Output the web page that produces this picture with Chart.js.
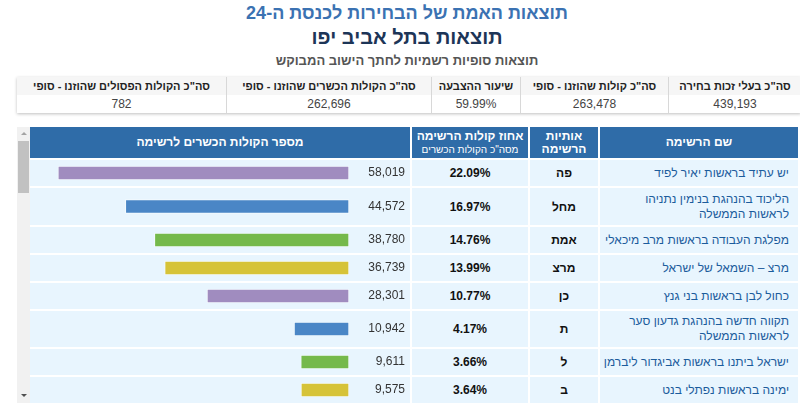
<!DOCTYPE html>
<html lang="he" dir="rtl">
<head>
<meta charset="utf-8">
<script src="https://cdn.jsdelivr.net/npm/chart.js@4"></script>
<style>
  html, body { margin: 0; padding: 0; background: #fff; }
  body { width: 800px; height: 406px; overflow: hidden; position: relative;
         font-family: "Liberation Sans", Arial, sans-serif; }
  .t1 { position: absolute; top: 3px; left: 14px; width: 786px; text-align: center;
        font-size: 18px; font-weight: bold; color: #3b72b2; }
  .t2 { position: absolute; top: 26px; left: 14px; width: 786px; text-align: center;
        font-size: 20px; font-weight: bold; color: #1d3557; }
  .t3 { position: absolute; top: 53px; left: 14px; width: 786px; text-align: center;
        font-size: 13px; font-weight: bold; color: #555; }
  .sum { position: absolute; top: 77px; left: 17px; width: 780px; border-collapse: collapse;
         table-layout: fixed; box-shadow: 0 1px 3px rgba(0,0,0,0.25); }
  .sum td { border-left: 1px solid #d8d8d8; text-align: center; font-size: 11px; padding: 0;
            height: 18px; white-space: nowrap; }
  .sum td:last-child { border-left: none; }
  .sum tr.h td { font-weight: bold; color: #222; background: #f6f6f6; }
  .sum tr.v td { color: #444; background: #fff; font-size: 12px; }
  .main { position: absolute; top: 125px; left: 28px; width: 772px; border-collapse: separate;
          border-spacing: 2px; table-layout: fixed; }
  .main th { background: #2f6ca8; color: #fff; font-size: 12px; font-weight: bold; height: 31px;
             padding: 0; line-height: 13px; }
  .main th small { font-size: 10px; font-weight: normal; }
  .main td { background: #e8f5fe; padding: 0; font-size: 12px; }
  .main td.bar { position: relative; }
  .main td.bar canvas { display: block; }
  .main td.pct { text-align: center; font-weight: bold; color: #111; }
  .main td.let { text-align: center; font-weight: bold; color: #111; }
  .main td.name { text-align: right; padding-right: 9px; color: #1c5c9c; font-size: 12px;
                  line-height: 15px; white-space: nowrap; }
  .scroll { position: absolute; left: 17px; top: 127px; width: 13px; height: 276px; background: #f1f1f1; }
  .thumb { position: absolute; left: 1px; top: 14px; width: 11px; height: 52px; background: #c1c1c1; }
  .arr { position: absolute; left: 4px; width: 0; height: 0; border-left: 3px solid transparent;
         border-right: 3px solid transparent; }
  .up { top: 5px; border-bottom: 3px solid #a3a3a3; }
  .dn { bottom: 6px; border-top: 3px solid #505050; }
</style>
</head>
<body>
<div class="t1">תוצאות האמת של הבחירות לכנסת ה-24</div>
<div class="t2">תוצאות בתל אביב יפו</div>
<div class="t3">תוצאות סופיות רשמיות לחתך הישוב המבוקש</div>

<table class="sum" id="sum"></table>

<div class="scroll"><div class="thumb"></div><div class="arr up"></div><div class="arr dn"></div></div>

<table class="main" id="main">
  <colgroup><col style="width:198px"><col style="width:68px"><col style="width:116px"><col style="width:380px"></colgroup>
  <thead>
    <tr>
      <th>שם הרשימה</th>
      <th>אותיות<br>הרשימה</th>
      <th>אחוז קולות הרשימה<br><small>מסה"כ הקולות הכשרים</small></th>
      <th>מספר הקולות הכשרים לרשימה</th>
    </tr>
  </thead>
  <tbody id="rows"></tbody>
</table>

<script>
// summary figures
const summaryLabels = ['סה"כ בעלי זכות בחירה', 'סה"כ קולות שהוזנו - סופי', 'שיעור ההצבעה',
  'סה"כ הקולות הכשרים שהוזנו - סופי', 'סה"כ הקולות הפסולים שהוזנו - סופי'];
const summaryValues = ['439,193', '263,478', '59.99%', '262,696', '782'];
const summaryWidths = [132, 147, 88, 204, 209];

// party rows
const partyNames = [
  'יש עתיד בראשות יאיר לפיד',
  'הליכוד בהנהגת בנימין נתניהו<br>לראשות הממשלה',
  'מפלגת העבודה בראשות מרב מיכאלי',
  'מרצ – השמאל של ישראל',
  'כחול לבן בראשות בני גנץ',
  'תקווה חדשה בהנהגת גדעון סער<br>לראשות הממשלה',
  'ישראל ביתנו בראשות אביגדור ליברמן',
  'ימינה בראשות נפתלי בנט'
];
const partyLetters = ['פה', 'מחל', 'אמת', 'מרצ', 'כן', 'ת', 'ל', 'ב'];
const votes = [58019, 44572, 38780, 36739, 28301, 10942, 9611, 9575];
const percents = ['22.09%', '16.97%', '14.76%', '13.99%', '10.77%', '4.17%', '3.66%', '3.64%'];
const barColors = ['#a08cbf', '#4a86c6', '#75b94b', '#d6c338', '#a08cbf', '#4a86c6', '#75b94b', '#d6c338'];
const rowHeights = [26, 37, 26, 26, 26, 36, 26, 26];

// summary table
const sum = document.getElementById('sum');
const trH = document.createElement('tr'); trH.className = 'h';
const trV = document.createElement('tr'); trV.className = 'v';
summaryLabels.forEach((l, i) => {
  const a = document.createElement('td'); a.textContent = l; a.style.width = summaryWidths[i] + 'px';
  const b = document.createElement('td'); b.textContent = summaryValues[i];
  trH.appendChild(a); trV.appendChild(b);
});
sum.appendChild(trH); sum.appendChild(trV);

// value label next to each bar
const valueLabel = {
  id: 'valueLabel',
  afterDatasetsDraw(chart) {
    const c = chart.ctx;
    const v = chart.data.datasets[0].data[0];
    const bar = chart.getDatasetMeta(0).data[0];
    c.save();
    c.font = '12px "Liberation Sans", Arial, sans-serif';
    c.fillStyle = '#333';
    c.textAlign = 'right';
    c.textBaseline = 'middle';
    c.fillText(v.toLocaleString('en-US'), chart.chartArea.right + 56, bar.y);
    c.restore();
  }
};

const tbody = document.getElementById('rows');
partyNames.forEach((n, i) => {
  const tr = document.createElement('tr');
  tr.innerHTML = '<td class="name">' + n + '</td><td class="let">' + partyLetters[i] +
    '</td><td class="pct">' + percents[i] + '</td><td class="bar"></td>';
  tr.style.height = rowHeights[i] + 'px';
  tbody.appendChild(tr);
  const cv = document.createElement('canvas');
  cv.width = 380; cv.height = rowHeights[i];
  tr.querySelector('.bar').appendChild(cv);
  new Chart(cv.getContext('2d'), {
    type: 'bar',
    data: {
      labels: [partyLetters[i]],
      datasets: [{
        data: [votes[i]],
        backgroundColor: barColors[i],
        borderColor: 'rgba(255,255,255,0.55)',
        borderWidth: 1,
        barThickness: 14,
        borderSkipped: false
      }]
    },
    options: {
      indexAxis: 'y',
      responsive: false,
      animation: false,
      layout: { padding: { left: 18, right: 61, top: 0, bottom: 0 } },
      plugins: { legend: { display: false }, tooltip: { enabled: false } },
      scales: {
        x: { display: false, reverse: true, min: 0, max: 60000 },
        y: { display: false }
      }
    },
    plugins: [valueLabel]
  });
});
</script>
</body>
</html>
